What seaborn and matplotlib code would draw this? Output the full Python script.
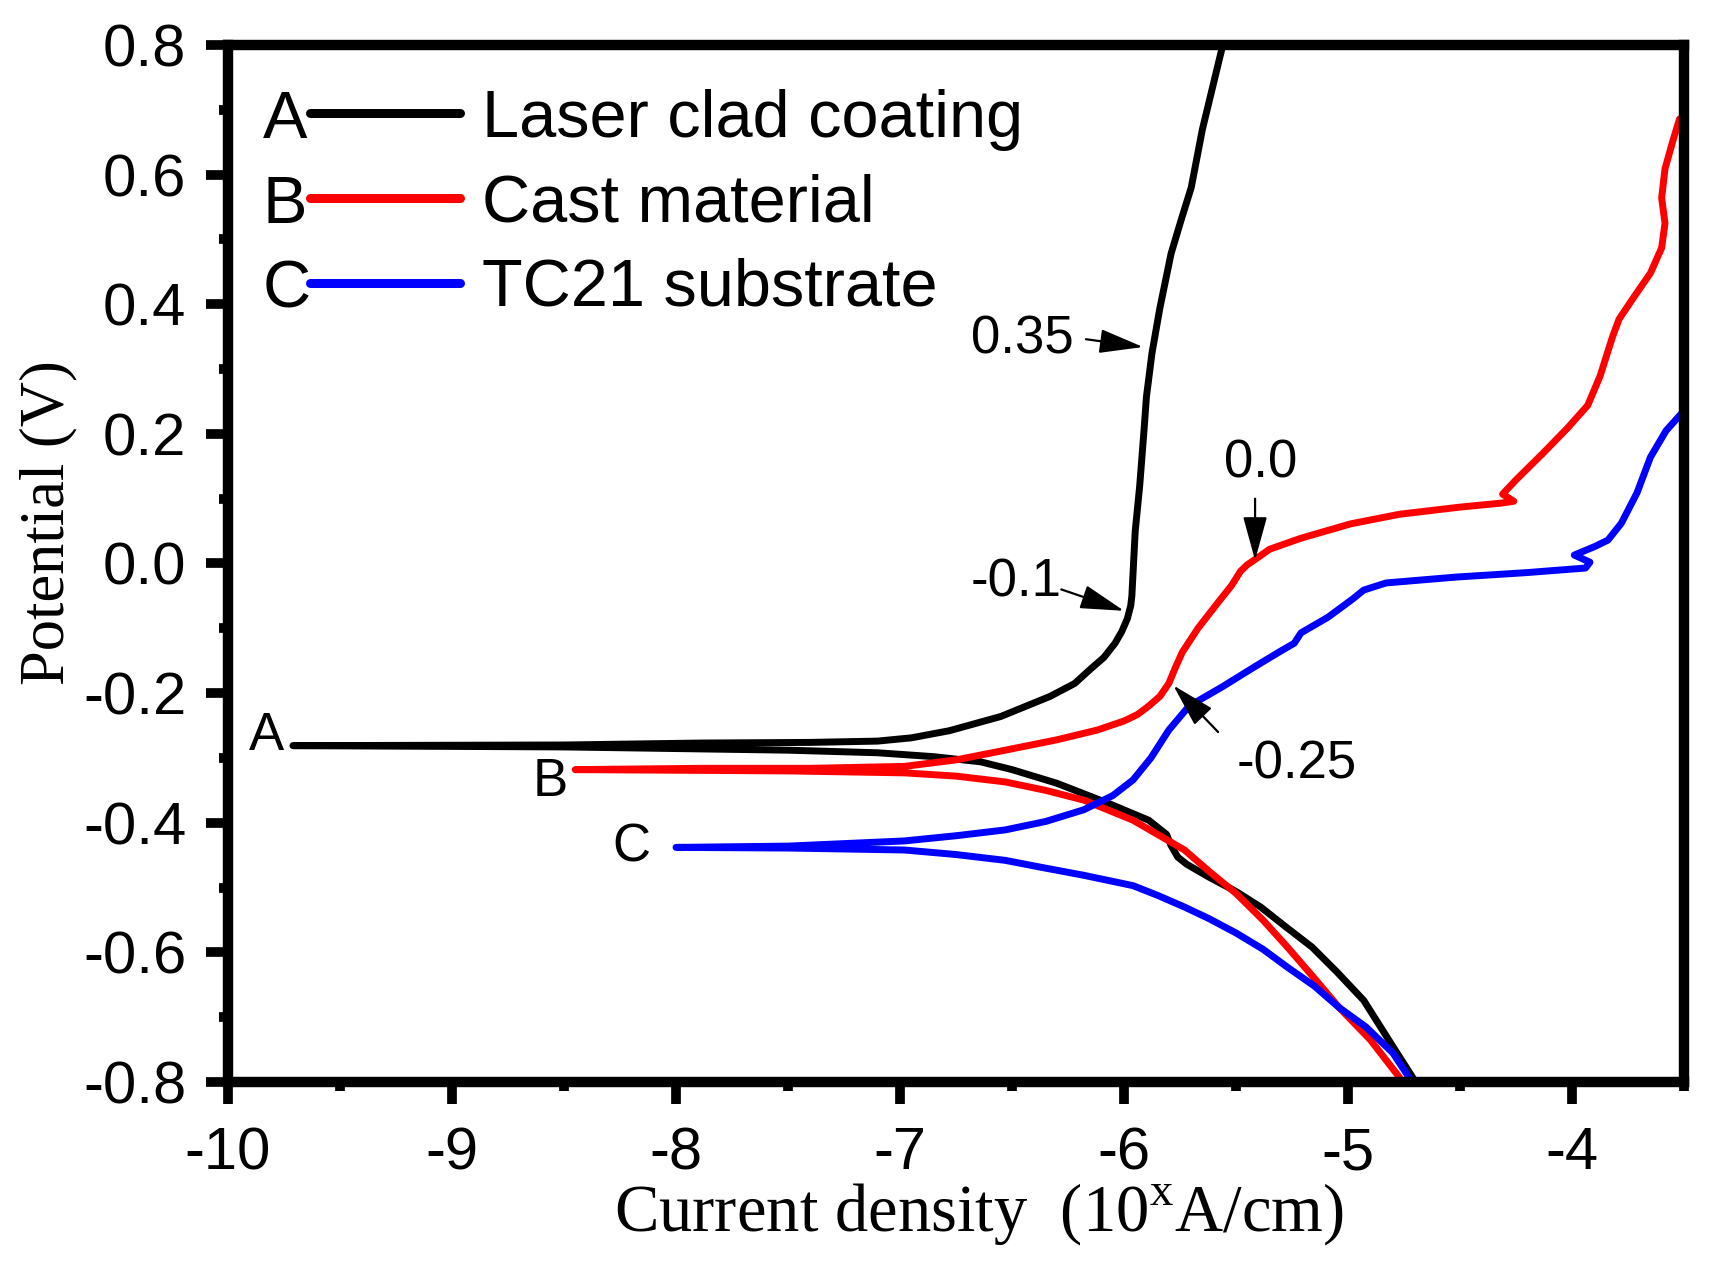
import matplotlib
matplotlib.use('Agg')
import matplotlib.pyplot as plt
import pandas as pd
import seaborn as sns
from matplotlib.legend_handler import HandlerLine2D
from matplotlib.lines import Line2D
from matplotlib.text import Text
from matplotlib.ticker import MultipleLocator

## polarization curves
## each one: cathodic branch from -0.8 V up to Ecorr, then anodic branch
a_x = [-4.68, -4.80, -4.93, -5.05, -5.16, -5.28, -5.39, -5.50, -5.62, -5.72, -5.76, -5.79,
       -5.81, -5.89, -6.07, -6.30, -6.50, -6.64, -6.85, -7.10, -7.50, -8.50, -9.71,
       -8.50, -7.89, -7.40, -7.10, -6.95, -6.78, -6.55, -6.33, -6.22, -6.15, -6.09, -6.04,
       -6.01, -5.985, -5.97, -5.965, -5.95, -5.93, -5.91, -5.90, -5.875, -5.84, -5.79,
       -5.745, -5.70, -5.65, -5.545]
a_y = [-0.810, -0.745, -0.674, -0.630, -0.592, -0.560, -0.530, -0.506, -0.484, -0.464, -0.453, -0.435,
       -0.418, -0.396, -0.370, -0.339, -0.318, -0.306, -0.298, -0.292, -0.288, -0.283, -0.281,
       -0.280, -0.277, -0.276, -0.274, -0.269, -0.258, -0.236, -0.205, -0.185, -0.163, -0.145, -0.123,
       -0.105, -0.085, -0.065, -0.050, 0.050, 0.120, 0.209, 0.257, 0.325, 0.394, 0.478,
       0.530, 0.580, 0.670, 0.820]

b_x = [-4.755, -4.77, -4.90, -5.04, -5.15, -5.27, -5.38, -5.50, -5.62, -5.73, -5.85, -5.96,
       -6.18, -6.35, -6.53, -6.75, -6.98, -7.50, -8.45,
       -7.89, -7.40, -6.98, -6.75, -6.53, -6.30, -6.12, -6.00, -5.94, -5.89, -5.84, -5.80, -5.77,
       -5.74, -5.67, -5.58, -5.52, -5.48, -5.45, -5.42, -5.35, -5.21, -4.99, -4.77, -4.50, -4.32,
       -4.26, -4.31, -4.25, -4.13, -4.02, -3.93, -3.875, -3.82, -3.79, -3.72, -3.65, -3.60,
       -3.585, -3.60, -3.585, -3.55, -3.52]
b_y = [-0.810, -0.793, -0.735, -0.685, -0.640, -0.592, -0.550, -0.509, -0.475, -0.442, -0.418, -0.396,
       -0.365, -0.350, -0.337, -0.328, -0.323, -0.320, -0.318,
       -0.316, -0.316, -0.313, -0.303, -0.288, -0.272, -0.257, -0.243, -0.233, -0.220, -0.205, -0.185,
       -0.160, -0.137, -0.100, -0.060, -0.034, -0.012, -0.002, 0.005, 0.022, 0.039, 0.061, 0.076, 0.087,
       0.093, 0.096, 0.107, 0.129, 0.170, 0.209, 0.244, 0.289, 0.349, 0.377, 0.413, 0.448, 0.487,
       0.525, 0.564, 0.609, 0.652, 0.686]

c_x = [-4.695, -4.80, -4.92, -5.04, -5.15, -5.27, -5.38, -5.50, -5.62, -5.73, -5.85, -5.96,
       -6.18, -6.35, -6.53, -6.75, -6.98, -7.50, -8.00,
       -7.50, -6.98, -6.75, -6.53, -6.35, -6.18, -6.05, -5.96, -5.88, -5.80, -5.71, -5.56,
       -5.42, -5.30, -5.24, -5.21, -5.09, -4.98, -4.93, -4.83, -4.52, -4.20, -3.94, -3.92,
       -3.99, -3.90, -3.84, -3.78, -3.71, -3.65, -3.58, -3.51]
c_y = [-0.810, -0.755, -0.715, -0.685, -0.652, -0.623, -0.595, -0.570, -0.548, -0.530, -0.512, -0.497,
       -0.481, -0.470, -0.458, -0.449, -0.442, -0.439, -0.438,
       -0.436, -0.428, -0.420, -0.411, -0.398, -0.380, -0.358, -0.334, -0.300, -0.257, -0.220, -0.190,
       -0.160, -0.135, -0.123, -0.107, -0.083, -0.055, -0.041, -0.030, -0.021, -0.014, -0.007, 0.002,
       0.013, 0.026, 0.036, 0.062, 0.109, 0.164, 0.205, 0.232]

names = ['Laser clad coating', 'Cast material', 'TC21 substrate']
letters = ['A', 'B', 'C']
colors = ['black', 'red', 'blue']

# letter next to the start of each curve
letter_pos = [(-9.83, -0.266), (-8.56, -0.337), (-8.20, -0.438)]

# marked potentials: text, text centre, arrow tail, arrow head
note_text = ['0.35', '-0.1', '0.0', '-0.25']
note_pos = [(-6.455, 0.346), (-6.48, -0.030), (-5.39, 0.155), (-5.23, -0.310)]
note_tail = [(-6.17, 0.346), (-6.28, -0.040), (-5.415, 0.100), (-5.58, -0.260)]
note_head = [(-5.915, 0.334), (-6.00, -0.073), (-5.415, 0.005), (-5.78, -0.188)]


class LetterLine(HandlerLine2D):
    # legend handle drawn as "A-----"
    def __init__(self, letter, **kw):
        super().__init__(**kw)
        self.letter = letter

    def create_artists(self, legend, orig_handle, xdescent, ydescent, width, height, fontsize, trans):
        x0 = -xdescent + 0.70 * fontsize
        x1 = -xdescent + width
        yc = height / 2 - ydescent
        line = Line2D([x0, x1], [yc, yc])
        self.update_prop(line, orig_handle, legend)
        line.set_linewidth(6.5)
        line.set_transform(trans)
        txt = Text(-xdescent, yc - 0.12 * fontsize, self.letter, ha='left', va='center',
                   fontsize=fontsize, color='black', transform=trans)
        return [line, txt]


sns.set_style('ticks')
plt.rcParams['font.family'] = ['Liberation Sans', 'DejaVu Sans']
plt.rcParams['mathtext.fontset'] = 'custom'
plt.rcParams['mathtext.rm'] = 'Liberation Serif'
plt.rcParams['axes.unicode_minus'] = False
for k in ['text.color', 'axes.labelcolor', 'xtick.color', 'ytick.color', 'axes.edgecolor']:
    plt.rcParams[k] = 'black'

fig = plt.figure(figsize=(17.09, 12.66), dpi=100)
ax = fig.add_axes([0.1334, 0.1453, 0.852, 0.8192])

curves = [(a_x, a_y), (b_x, b_y), (c_x, c_y)]
for (cx, cy), col in zip(curves, colors):
    df = pd.DataFrame({'x': cx, 'y': cy})
    sns.lineplot(data=df, x='x', y='y', sort=False, estimator=None, color=col, lw=5, ax=ax)

handles = ax.get_lines()[:3]
hmap = {h: LetterLine(l) for h, l in zip(handles, letters)}
ax.legend(handles, names, handler_map=hmap, loc='upper left', bbox_to_anchor=(0.024, 0.958),
          frameon=False, fontsize=48, handlelength=2.95, handletextpad=0.33,
          labelspacing=0.34, borderpad=0, borderaxespad=0)

for t, p in zip(letters, letter_pos):
    ax.text(p[0], p[1], t, fontsize=38, ha='center', va='center')

for t, p, s, e in zip(note_text, note_pos, note_tail, note_head):
    ax.text(p[0], p[1], t, fontsize=38, ha='center', va='center')
    ax.annotate('', xy=e, xytext=s,
                arrowprops=dict(arrowstyle='-|>,head_length=0.8,head_width=0.22',
                                mutation_scale=34, lw=1.6, color='black',
                                shrinkA=0, shrinkB=0))

ax.set_xlim(-10, -3.5)
ax.set_ylim(-0.8, 0.8)
ax.xaxis.set_major_locator(MultipleLocator(1))
ax.xaxis.set_minor_locator(MultipleLocator(0.5))
ax.yaxis.set_major_locator(MultipleLocator(0.2))
ax.yaxis.set_minor_locator(MultipleLocator(0.1))
ax.yaxis.set_major_formatter(matplotlib.ticker.FuncFormatter(lambda v, p: '%.1f' % v))

ax.tick_params(which='major', direction='out', length=16, width=7, labelsize=43, colors='black')
ax.tick_params(which='minor', direction='out', length=6.5, width=7)
ax.tick_params(axis='x', pad=16)
ax.tick_params(axis='y', pad=14)
for sp in ax.spines.values():
    sp.set_linewidth(7.5)
    sp.set_color('black')

ax.set_xlabel(r'Current density  (10$^{\mathrm{x}}$A/cm)', family='Liberation Serif',
              fontsize=48, labelpad=0, x=0.516)
ax.set_ylabel('Potential (V)', family='Liberation Serif', fontsize=45, labelpad=4, y=0.539)

fig.savefig('out.png', dpi=100)
